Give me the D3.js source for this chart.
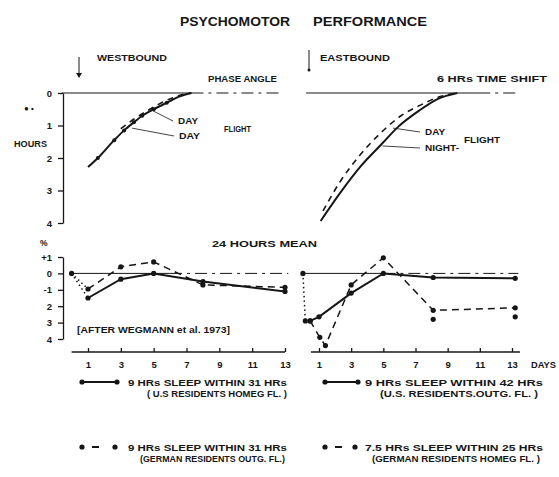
<!DOCTYPE html>
<html>
<head>
<meta charset="utf-8">
<script src="https://cdn.jsdelivr.net/npm/d3@7"></script>
<style>
    body { margin: 0; background: #fff; }
    svg { display: block; font-family: 'Liberation Sans', Arial, sans-serif; }
    text { fill: #161616; font-weight: bold; }
</style>
</head>
<body>
<svg id="chart"></svg>
<script>
const width = 559;
const height = 477;
const ink = '#161616';

const dayTicks = [1, 3, 5, 7, 9, 11, 13];
const hourTicks = [0, 1, 2, 3, 4];
const pctTicks = [1, 0, -1, -2, -3, -4];
const pctLabels = ['+1', '0', '-1', '2', '3', '4'];

// phase angle in hours, [day, hours]
const westSolid = [[1.0, 2.28], [1.6, 2.0], [2.6, 1.45], [3.2, 1.15], [3.8, 0.9], [4.3, 0.7], [5.0, 0.5], [5.8, 0.3], [6.5, 0.12], [7.3, 0]];
const westDashed = [[3.0, 1.1], [3.8, 0.8], [4.6, 0.55], [5.4, 0.32], [6.2, 0.14], [6.9, 0.03], [7.3, 0]];
const eastSolid = [[1.1, 3.94], [2.35, 3.05], [3.6, 2.25], [4.9, 1.57], [5.9, 1.05], [7.2, 0.55], [8.4, 0.18], [9.6, 0]];
const eastDashed = [[1.25, 3.63], [2.35, 2.7], [3.6, 1.88], [4.9, 1.2], [6.1, 0.7], [7.4, 0.35], [8.6, 0.1], [9.6, 0]];

// 24 hours mean in %, [day, value]
const origin = [0, 0];
const westUsHome = [[1, -1.5], [3, -0.35], [5, 0], [8, -0.5], [13, -1.1]];
const westGerOutg = [[1, -0.95], [3, 0.4], [5, 0.7], [8, -0.7], [13, -0.85]];
const eastUsOutg = [[0.45, -2.9], [1, -2.65], [3, -1.2], [5, 0], [8.1, -0.25], [13.2, -0.3]];
const eastGerHome = [[0.45, -2.9], [1.05, -3.9], [1.4, -4.4], [3, -0.7], [5, 0.95], [8.1, -2.25], [13.2, -2.1]];
const eastExtra = [[0.15, -2.9], [8.1, -2.8], [13.2, -2.65]];

const svg = d3.select('#chart')
    .attr('width', width)
    .attr('height', height);

const xWest = d3.scaleLinear().domain([1, 13]).range([88, 285]);
const xEast = d3.scaleLinear().domain([1, 13]).range([319, 512]);
const yHours = d3.scaleLinear().domain([0, 4]).range([93, 223]);
const yPct = d3.scaleLinear().domain([1, -4]).range([257, 339]);

function label(txt, x, y, size, len, anchor) {
    const t = svg.append('text')
        .attr('x', x)
        .attr('y', y)
        .attr('font-size', size)
        .attr('text-anchor', anchor || 'start')
        .text(txt);
    if (len) t.attr('textLength', len).attr('lengthAdjust', 'spacingAndGlyphs');
    return t;
}

function styleAxis(g) {
    g.attr('font-family', null).attr('font-size', 9.5);
    g.selectAll('path, line').attr('stroke', ink).attr('stroke-width', 1.3);
    g.selectAll('text').attr('fill', ink);
}

// titles
label('PSYCHOMOTOR', 180, 26, 13.5, 110);
label('PERFORMANCE', 313, 26, 13.5, 114);
label('WESTBOUND', 97, 61, 9.5, 70);
label('EASTBOUND', 320, 61, 9.5, 70);
label('PHASE ANGLE', 208, 82, 9, 69);
label('6 HRs  TIME  SHIFT', 437, 82, 9, 110);
label('HOURS', 14, 147, 8.5, 33);
label('24  HOURS  MEAN', 212, 247, 9, 105);
label('%', 40, 246, 8.5);
label('[AFTER  WEGMANN  et al. 1973]', 77, 333, 9.5, 153);
label('\u25CF \u2022', 24, 111, 8);

// direction arrows
svg.append('line').attr('x1', 79).attr('x2', 79).attr('y1', 57).attr('y2', 76)
    .attr('stroke', ink).attr('stroke-width', 1);
svg.append('path').attr('d', 'M76,73 L79,78 L82,73 Z').attr('fill', ink);
svg.append('line').attr('x1', 309).attr('x2', 309).attr('y1', 50).attr('y2', 70)
    .attr('stroke', ink).attr('stroke-width', 1);
svg.append('circle').attr('cx', 309).attr('cy', 70).attr('r', 1.5).attr('fill', ink);

// y axes
svg.append('g')
    .attr('transform', 'translate(63,0)')
    .call(d3.axisLeft(yHours).tickValues(hourTicks).tickSize(5).tickSizeOuter(0).tickPadding(6)
        .tickFormat(d3.format('d')))
    .call(styleAxis);

svg.append('g')
    .attr('transform', 'translate(63,0)')
    .call(d3.axisLeft(yPct).tickValues(pctTicks).tickSize(5).tickSizeOuter(0).tickPadding(6)
        .tickFormat((d, i) => pctLabels[i]))
    .call(styleAxis);

// x axes with ticks pointing up
function dayAxis(x, from, to) {
    const g = svg.append('g')
        .attr('transform', 'translate(0,352)')
        .call(d3.axisBottom(x).tickValues(dayTicks).tickSize(-4).tickPadding(9))
        .call(styleAxis);
    g.select('.domain').remove();
    g.append('line')
        .attr('x1', x(from)).attr('x2', x(to))
        .attr('stroke', ink).attr('stroke-width', 1.6);
    return g;
}
dayAxis(xWest, 0, 13);
dayAxis(xEast, 0.5, 13.5)
    .append('text')
    .attr('x', 531)
    .attr('y', 9)
    .attr('dy', '0.71em')
    .attr('text-anchor', 'start')
    .attr('textLength', 25)
    .attr('lengthAdjust', 'spacingAndGlyphs')
    .text('DAYS');

// zero reference lines
function zeroLine(x, y, d0, d1, d2) {
    svg.append('line')
        .attr('x1', x(d0)).attr('x2', x(d1)).attr('y1', y(0)).attr('y2', y(0))
        .attr('stroke', ink).attr('stroke-width', 1);
    svg.append('line')
        .attr('x1', x(d1)).attr('x2', x(d2)).attr('y1', y(0)).attr('y2', y(0))
        .attr('stroke', ink).attr('stroke-width', 1).attr('stroke-dasharray', '12,5,3,5');
}
zeroLine(xWest, yHours, -0.6, 7.3, 12.6);
zeroLine(xEast, yHours, 0.2, 10.9, 13.4);
zeroLine(xWest, yPct, 0, 6, 13.2);
zeroLine(xEast, yPct, 0, 5, 13.4);

// phase angle curves
function curve(data, x, dashed) {
    svg.append('path')
        .datum(data)
        .attr('fill', 'none')
        .attr('stroke', ink)
        .attr('stroke-width', dashed ? 1.6 : 2)
        .attr('stroke-dasharray', dashed ? '6,5' : null)
        .attr('d', d3.line()
            .curve(d3.curveMonotoneX)
            .x(d => x(d[0]))
            .y(d => yHours(d[1])));
}
curve(westSolid, xWest, false);
curve(westDashed, xWest, true);
curve(eastSolid, xEast, false);
curve(eastDashed, xEast, true);

svg.selectAll('.west-mark')
    .data(westSolid.slice(1, -2))
    .enter()
    .append('circle')
    .attr('cx', d => xWest(d[0]))
    .attr('cy', d => yHours(d[1]))
    .attr('r', 2)
    .attr('fill', ink);

// callouts
function callout(x, day, hours, tx, ty, txt, len) {
    svg.append('line')
        .attr('x1', x(day)).attr('y1', yHours(hours))
        .attr('x2', tx - 5).attr('y2', ty - 3)
        .attr('stroke', ink).attr('stroke-width', 0.8);
    label(txt, tx, ty, 9, len);
}
callout(xWest, 4.96, 0.55, 178, 124, 'DAY', 20);
callout(xWest, 3.68, 1.08, 179, 139, 'DAY', 21);
label('FLIGHT', 224, 132, 9, 27);
callout(xEast, 5.6, 1.08, 425, 135, 'DAY', 20);
callout(xEast, 4.95, 1.63, 425, 151, 'NIGHT-', 34);
label('FLIGHT', 464, 143, 9, 36);

// 24 hours mean series
function series(data, x, dash) {
    svg.append('path')
        .datum(data)
        .attr('fill', 'none')
        .attr('stroke', ink)
        .attr('stroke-width', dash ? 1.5 : 2)
        .attr('stroke-dasharray', dash)
        .attr('d', d3.line()
            .x(d => x(d[0]))
            .y(d => yPct(d[1])));
}
function dots(data, x) {
    svg.append('g')
        .selectAll('circle')
        .data(data)
        .enter()
        .append('circle')
        .attr('cx', d => x(d[0]))
        .attr('cy', d => yPct(d[1]))
        .attr('r', 2.6)
        .attr('fill', ink);
}

series([origin, westUsHome[0]], xWest, '1.5,3');
series([origin, westGerOutg[0]], xWest, '1.5,3');
series(westUsHome, xWest, null);
series(westGerOutg, xWest, '7,5');
dots([origin], xWest);
dots(westUsHome, xWest);
dots(westGerOutg, xWest);

series([origin, eastExtra[0]], xEast, '1.5,3');
series(eastUsOutg, xEast, null);
series(eastGerHome, xEast, '7,5');
dots([origin], xEast);
dots(eastUsOutg, xEast);
dots(eastGerHome, xEast);
dots(eastExtra, xEast);

// legends
function legendKey(x0, x1, y, dashed) {
    svg.append('line')
        .attr('x1', x0).attr('x2', x1).attr('y1', y).attr('y2', y)
        .attr('stroke', ink).attr('stroke-width', 2)
        .attr('stroke-dasharray', dashed ? '0,10,7,20' : null);
    [x0, x1].forEach(cx => svg.append('circle').attr('cx', cx).attr('cy', y).attr('r', 2.6).attr('fill', ink));
}
legendKey(82, 117, 382, false);
label('9 HRs  SLEEP  WITHIN  31 HRs', 128, 386, 9.5, 159);
label('( U.S  RESIDENTS   HOMEG  FL. )', 147, 397, 9, 140);
legendKey(82, 115, 447, true);
label('9 HRs  SLEEP  WITHIN  31 HRs', 128, 451, 9.5, 159);
label('(GERMAN  RESIDENTS   OUTG. FL.)', 140, 462, 9, 145);

legendKey(325, 358, 382, false);
label('9 HRs  SLEEP  WITHIN  42 HRs', 365, 386, 9.5, 178);
label('(U.S. RESIDENTS.OUTG.  FL.   )', 380, 397, 9, 158);
legendKey(325, 355, 447, true);
label('7.5 HRs  SLEEP  WITHIN  25 HRs', 365, 451, 9.5, 178);
label('(GERMAN  RESIDENTS   HOMEG  FL. )', 372, 462, 9, 168);
</script>
</body>
</html>
